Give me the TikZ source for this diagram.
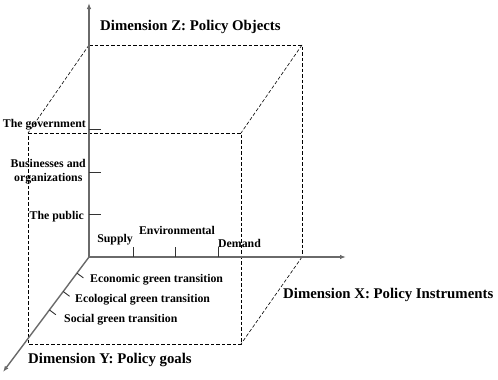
\documentclass[tikz,border=0pt]{standalone}
\usepackage{fontspec}
\setmainfont{Liberation Serif}
\usetikzlibrary{arrows.meta,positioning,calc}
\definecolor{axisgrey}{HTML}{6A6A6A}
\definecolor{tickgrey}{HTML}{333333}

\begin{document}
\begin{tikzpicture}[x=1pt, y=-1pt, every node/.style={font=\bfseries\fontsize{11.8}{14}\selectfont, inner sep=0pt},
  dimlbl/.style={font=\bfseries\fontsize{14.8}{17}\selectfont},
  ax/.style={-{Latex[length=6pt,width=4.5pt]}, axisgrey, line width=1.4pt},
  tck/.style={tickgrey, line width=0.9pt},
  edg/.style={black, line width=0.6pt, dash pattern=on 3.5pt off 2pt}]
\useasboundingbox (0,0) rectangle (498,380);
\coordinate (O) at (89,257);
\coordinate (zT) at (89,3);
\coordinate (xT) at (346,257);
\coordinate (yT) at (3,372);
\coordinate (bTL) at (89,45);
\coordinate (bTR) at (302,45);
\coordinate (bBR) at (302,257);
\coordinate (fTL) at (28,133);
\coordinate (fTR) at (241,133);
\coordinate (fBL) at (28,344);
\coordinate (fBR) at (241,344);
% dashed box
\draw[edg] (bTL) -- (bTR) -- (bBR);
\draw[edg] (bTL) -- (fTL); \draw[edg] (bTR) -- (fTR); \draw[edg] (bBR) -- (fBR);
\draw[edg] (fTL) -- (fTR) -- (fBR) -- (fBL) -- cycle;
% axes
\draw[ax] (O) -- (zT); \draw[ax] (O) -- (xT); \draw[ax] (O) -- (yT);
% ticks
\coordinate (z1) at (89,129); \coordinate (z2) at (89,172); \coordinate (z3) at (89,214);
\coordinate (x1) at (133,257); \coordinate (x2) at (175,257); \coordinate (x3) at (218,257);
\coordinate (y1) at ($(O)!0.14!(yT)$); \coordinate (y2) at ($(O)!0.30!(yT)$); \coordinate (y3) at ($(O)!0.46!(yT)$);
\foreach \t in {z1,z2,z3} \draw[tck] (\t) -- ++(12,0);
\foreach \t in {x1,x2,x3} \draw[tck] (\t) -- ++(0,-10);
\foreach \t in {y1,y2,y3} \draw[tck] (\t) -- ($(\t)!8pt!-90:(O)$);
% labels
\node[anchor=base east] (gov) at (86,127) {The government};
\node[anchor=east, align=center] (bus) at (86,172) {Businesses and\\organizations};
\node[anchor=base east] (pub) at (84,219) {The public};
\node[anchor=base east] (sup) at (133,242) {Supply};
\node[anchor=base] (env) at (177,234) {Environmental};
\node[anchor=base west] (dem) at (218,247) {Demand};
\node[anchor=base west] (eco) at (90,282) {Economic green transition};
\node[anchor=base west] (ecl) at (75,302) {Ecological green transition};
\node[anchor=base west] (soc) at (64,322) {Social green transition};
\node[dimlbl, anchor=base west] (dimz) at (100,30) {Dimension Z: Policy Objects};
\node[dimlbl, anchor=base west] (dimx) at (283,298) {Dimension X: Policy Instruments};
\node[dimlbl, anchor=base west] (dimy) at (28,363) {Dimension Y: Policy goals};
\end{tikzpicture}
\end{document}
